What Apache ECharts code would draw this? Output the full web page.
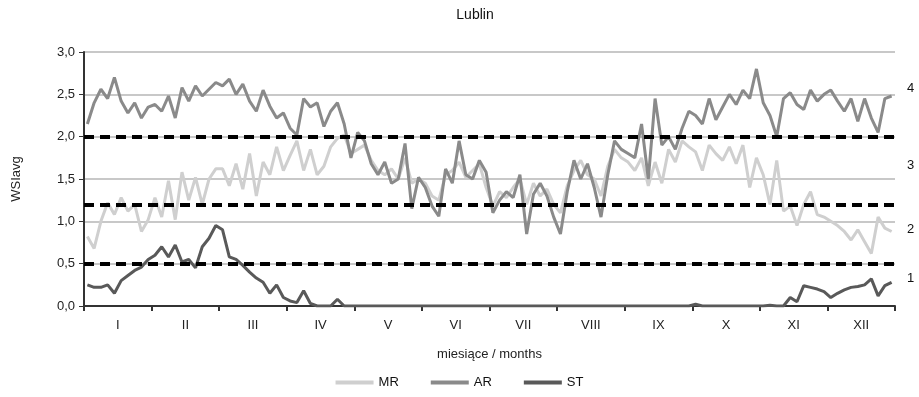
<!DOCTYPE html>
<html>
<head>
<meta charset="utf-8">
<script src="https://cdn.jsdelivr.net/npm/echarts@6/dist/echarts.min.js"></script>
<style>
  html, body { margin: 0; padding: 0; background: #fff; }
  #chart { width: 919px; height: 397px; }
</style>
</head>
<body>
<div id="chart"></div>
<script>
// miesiące (etykiety osi X)
var months = ["I", "II", "III", "IV", "V", "VI", "VII", "VIII", "IX", "X", "XI", "XII"];
var yTicks = [0, 0.5, 1, 1.5, 2, 2.5, 3];

// wartości odczytane co ~3 dni (10 na miesiąc)
var mrData = [
  0.82, 0.68, 1.00, 1.22, 1.08, 1.28, 1.12, 1.20, 0.88, 1.02,
  1.28, 1.05, 1.48, 1.02, 1.58, 1.25, 1.52, 1.20, 1.50, 1.62,
  1.62, 1.42, 1.68, 1.38, 1.80, 1.30, 1.70, 1.55, 1.88, 1.60,
  1.78, 1.95, 1.60, 1.85, 1.55, 1.65, 1.88, 1.98, 2.02, 1.80,
  1.85, 1.90, 1.72, 1.60, 1.55, 1.62, 1.50, 1.75, 1.45, 1.50,
  1.45, 1.30, 1.25, 1.55, 1.60, 1.70, 1.52, 1.60, 1.68, 1.40,
  1.18, 1.35, 1.28, 1.40, 1.50, 1.20, 1.45, 1.30, 1.38, 1.20,
  1.10, 1.42, 1.60, 1.72, 1.55, 1.50, 1.30, 1.65, 1.85, 1.75,
  1.70, 1.60, 1.75, 1.42, 1.70, 1.45, 1.85, 1.70, 1.95, 1.88,
  1.82, 1.60, 1.90, 1.80, 1.72, 1.88, 1.68, 1.90, 1.40, 1.75,
  1.55, 1.20, 1.72, 1.12, 1.18, 0.95, 1.20, 1.35, 1.08, 1.05,
  1.00, 0.95, 0.88, 0.78, 0.90, 0.76, 0.62, 1.05, 0.92, 0.88
];
var arData = [
  2.15, 2.40, 2.56, 2.45, 2.70, 2.42, 2.28, 2.40, 2.22, 2.35,
  2.38, 2.30, 2.48, 2.22, 2.58, 2.42, 2.60, 2.48, 2.56, 2.64,
  2.60, 2.68, 2.50, 2.62, 2.42, 2.30, 2.55, 2.36, 2.22, 2.28,
  2.10, 2.02, 2.45, 2.35, 2.40, 2.12, 2.30, 2.40, 2.15, 1.75,
  2.05, 1.95, 1.68, 1.55, 1.70, 1.45, 1.50, 1.92, 1.15, 1.52,
  1.40, 1.18, 1.06, 1.62, 1.45, 1.95, 1.55, 1.50, 1.72, 1.58,
  1.10, 1.25, 1.35, 1.28, 1.55, 0.85, 1.32, 1.45, 1.30, 1.05,
  0.85, 1.35, 1.72, 1.50, 1.68, 1.40, 1.05, 1.55, 1.95, 1.85,
  1.80, 1.75, 2.15, 1.50, 2.45, 1.90, 2.00, 1.85, 2.10, 2.30,
  2.25, 2.15, 2.45, 2.20, 2.35, 2.50, 2.38, 2.55, 2.45, 2.80,
  2.40, 2.25, 2.00, 2.45, 2.52, 2.38, 2.32, 2.55, 2.42, 2.50,
  2.55, 2.42, 2.30, 2.45, 2.18, 2.45, 2.22, 2.05, 2.45, 2.48
];
var stData = [
  0.25, 0.22, 0.22, 0.25, 0.15, 0.30, 0.36, 0.42, 0.46, 0.55,
  0.60, 0.70, 0.58, 0.72, 0.52, 0.55, 0.45, 0.70, 0.80, 0.95,
  0.90, 0.58, 0.55, 0.48, 0.40, 0.33, 0.28, 0.15, 0.25, 0.10,
  0.06, 0.04, 0.18, 0.03, 0, 0, 0, 0.08, 0, 0,
  0, 0, 0, 0, 0, 0, 0, 0, 0, 0,
  0, 0, 0, 0, 0, 0, 0, 0, 0, 0,
  0, 0, 0, 0, 0, 0, 0, 0, 0, 0,
  0, 0, 0, 0, 0, 0, 0, 0, 0, 0,
  0, 0, 0, 0, 0, 0, 0, 0, 0, 0,
  0.02, 0, 0, 0, 0, 0, 0, 0, 0, 0,
  0, 0.01, 0, 0, 0.10, 0.05, 0.24, 0.22, 0.20, 0.17,
  0.10, 0.15, 0.19, 0.22, 0.23, 0.25, 0.32, 0.12, 0.24, 0.28
];

// progi klas (linie przerywane) i numery klas po prawej
var thresholds = [2.0, 1.2, 0.5];
var classLabels = ["4", "3", "2", "1"];
var classLabelY = [2.57, 1.66, 0.9, 0.32];

var perMonth = 10;
function toXY(arr) {
  return arr.map(function (v, i) {
    return [(i + 0.5) / perMonth, v];
  });
}

var chart = echarts.init(document.getElementById("chart"));
var font = "Liberation Sans, Arial, sans-serif";

var option = {
  animation: false,
  textStyle: { fontFamily: font },
  title: {
    text: "Lublin",
    left: 470,
    textAlign: "center",
    top: 3,
    textStyle: { fontSize: 14, fontWeight: "normal", color: "#111", fontFamily: font },
  },
  legend: {
    bottom: 3,
    left: "center",
    icon: "rect",
    itemWidth: 38,
    itemHeight: 4,
    itemGap: 32,
    textStyle: { fontSize: 13, color: "#111", fontFamily: font },
    data: ["MR", "AR", "ST"],
  },
  grid: { left: 84, right: 24, top: 52, bottom: 91 },
  xAxis: [
    {
      type: "value",
      min: 0,
      max: 12,
      show: false,
    },
    {
      type: "category",
      data: months,
      position: "bottom",
      boundaryGap: true,
      name: "miesiące / months",
      nameLocation: "middle",
      nameGap: 42,
      nameTextStyle: { fontSize: 13, color: "#222" },
      axisLine: { lineStyle: { color: "#333", width: 2 } },
      axisTick: { show: true, interval: 0, length: 5, lineStyle: { color: "#333", width: 2 } },
      axisLabel: { fontSize: 13, color: "#222", margin: 13, interval: 0 },
    },
  ],
  yAxis: {
    type: "value",
    min: 0,
    max: 3,
    interval: 0.5,
    name: "WSIavg",
    nameLocation: "middle",
    nameGap: 61,
    nameTextStyle: { fontSize: 13, color: "#222" },
    axisLine: { show: true, lineStyle: { color: "#333", width: 2 } },
    axisTick: { show: true, length: 5, lineStyle: { color: "#333", width: 1 } },
    axisLabel: {
      fontSize: 13,
      color: "#222",
      margin: 9,
      formatter: function (v) {
        return yTicks.indexOf(v) >= 0 ? v.toFixed(1).replace(".", ",") : "";
      },
    },
    splitLine: { lineStyle: { color: "#c8c8c8", width: 2 } },
  },
  series: [
    {
      name: "MR",
      type: "line",
      xAxisIndex: 0,
      data: toXY(mrData),
      symbol: "none",
      lineStyle: { color: "#cfcfcf", width: 3 },
      itemStyle: { color: "#cfcfcf" },
      z: 2,
    },
    {
      name: "AR",
      type: "line",
      xAxisIndex: 0,
      data: toXY(arData),
      symbol: "none",
      lineStyle: { color: "#8a8a8a", width: 3 },
      itemStyle: { color: "#8a8a8a" },
      z: 3,
    },
    {
      name: "ST",
      type: "line",
      xAxisIndex: 0,
      data: toXY(stData),
      symbol: "none",
      lineStyle: { color: "#595959", width: 3 },
      itemStyle: { color: "#595959" },
      z: 4,
      markLine: {
        silent: true,
        symbol: "none",
        label: { show: false },
        lineStyle: { color: "#000", width: 4, type: [10, 6] },
        data: thresholds.map(function (t) { return { yAxis: t }; }),
        z: 5,
      },
    },
  ],
};
chart.setOption(option);

// numery klas po prawej stronie wykresu
var graphics = classLabels.map(function (lab, i) {
  var p = chart.convertToPixel({ gridIndex: 0 }, [12, classLabelY[i]]);
  return {
    type: "text",
    x: p[0] + 12,
    y: p[1],
    style: { text: lab, fontSize: 13, fill: "#111", font: "13px " + font, textVerticalAlign: "middle" },
  };
});
chart.setOption({ graphic: graphics });
</script>
</body>
</html>
